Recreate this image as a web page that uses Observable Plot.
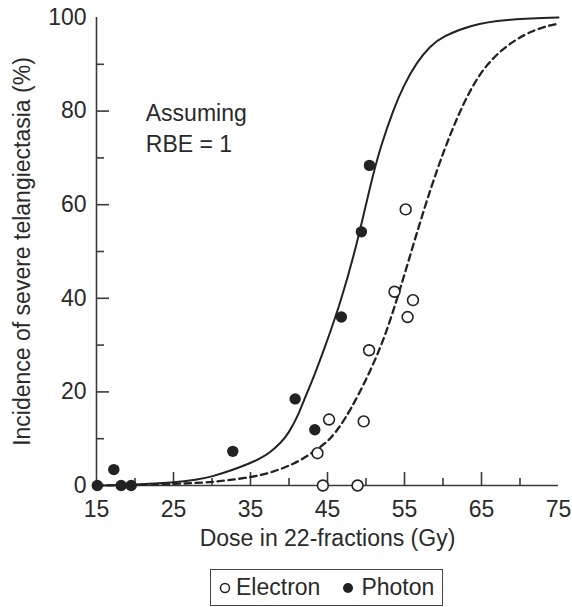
<!DOCTYPE html>
<html>
<head>
<meta charset="utf-8">
<script src="https://cdn.jsdelivr.net/npm/d3@7"></script>
<script src="https://cdn.jsdelivr.net/npm/@observablehq/plot@0.6"></script>
<style>
  body { margin: 0; background: #fff; font-family: "Liberation Sans", Arial, sans-serif; color: #2a2a2a; }
  #chart svg { display: block; }
  #legend {
    margin: 7px 0 0 210px; width: 233px; height: 37px; box-sizing: border-box;
    border: 1.5px solid #444; display: flex; align-items: center; padding-left: 8px;
    font-size: 23px; color: #2a2a2a; white-space: nowrap;
  }
  #legend svg { display: block; flex: none; }
</style>
</head>
<body>
<div id="chart"></div>
<div id="legend"></div>
<script>
// Data points
const photonDose = [15.1, 17.25, 18.2, 19.5, 32.7, 40.8, 43.35, 46.8, 49.4, 50.45];
const photonIncidence = [0, 3.4, 0, 0, 7.3, 18.5, 11.9, 36.0, 54.2, 68.4];
const electronDose = [43.7, 44.4, 45.2, 48.9, 49.7, 50.4, 53.7, 55.15, 55.4, 56.1];
const electronIncidence = [6.9, 0, 14.1, 0, 13.7, 28.9, 41.4, 59.0, 36.0, 39.6];

// Fitted curves, points
const photonCurveDose = [15, 20, 25, 28, 30, 32.5, 35, 36.3, 37.5, 39, 40, 41.2, 42, 43, 44.5, 46.7, 48.9, 50.6, 51.9, 53.6, 54.9, 56.6, 58.4, 60, 63.6, 67.9, 75];
const photonCurveIncidence = [0, 0.15, 0.6, 1.2, 1.9, 3.2, 4.8, 5.8, 7.0, 9.2, 11.3, 15, 18.5, 22.3, 28.8, 39, 52, 64.5, 72.5, 80.5, 85.5, 90.5, 94, 96, 98.4, 99.6, 100];
const electronCurveDose = [15, 20, 25, 30, 33, 36.3, 39, 41.5, 44.1, 45.4, 46.7, 48, 50, 51.9, 53.2, 54.9, 56.6, 58.4, 60.1, 61.8, 63.6, 65.7, 68.8, 72.2, 75];
const electronCurveIncidence = [0, 0.1, 0.3, 0.7, 1.3, 2.1, 3.5, 5.3, 8.2, 10, 12.8, 16.2, 22.5, 29.5, 35.5, 44.5, 54, 63.5, 71.5, 78.5, 84.8, 90.2, 94.8, 97.7, 98.7];

// Ticks and labels
const xTicks = [15, 25, 35, 45, 55, 65, 75];
const xMinorTicks = [20, 30, 40, 50, 60, 70];
const yTicks = [0, 20, 40, 60, 80, 100];
const yMinorTicks = [10, 30, 50, 70, 90];
const xLabel = "Dose in 22-fractions (Gy)";
const yLabel = "Incidence of severe telangiectasia (%)";
const annotation = "Assuming\nRBE = 1";
const seriesNames = ["Electron", "Photon"];

const photon = photonDose.map((d, i) => ({dose: d, inc: photonIncidence[i]}));
const electron = electronDose.map((d, i) => ({dose: d, inc: electronIncidence[i]}));
const photonCurve = photonCurveDose.map((d, i) => ({dose: d, inc: photonCurveIncidence[i]}));
const electronCurve = electronCurveDose.map((d, i) => ({dose: d, inc: electronCurveIncidence[i]}));

const W = 572, H = 562, mL = 96, mR = 14, mT = 17, mB = 77;
const plotW = W - mL - mR, plotH = H - mT - mB;
const ink = "#222";
const axisInk = "#3a3a3a";
const textInk = "#2a2a2a";

const chart = Plot.plot({
  width: W, height: H,
  marginLeft: mL, marginRight: mR, marginTop: mT, marginBottom: mB,
  style: {fontFamily: '"Liberation Sans", Arial, sans-serif', fontSize: "23px", color: textInk, background: "#fff", overflow: "visible"},
  x: {domain: [15, 75], ticks: xTicks, tickSize: 0, tickPadding: 15, label: null},
  y: {domain: [0, 100], ticks: yTicks, tickSize: 0, tickPadding: 10, label: null},
  marks: [
    // axis lines
    Plot.ruleY([0], {stroke: axisInk, strokeWidth: 1.6}),
    Plot.ruleX([15], {stroke: axisInk, strokeWidth: 1.6}),
    // inward ticks
    Plot.ruleX(xTicks.filter(d => d > 15 && d < 75), {stroke: axisInk, strokeWidth: 1.6, insetTop: plotH - 13}),
    Plot.ruleX(xMinorTicks, {stroke: axisInk, strokeWidth: 1.6, insetTop: plotH - 7}),
    Plot.ruleY(yTicks.filter(d => d > 0 && d < 100), {stroke: axisInk, strokeWidth: 1.6, insetRight: plotW - 13}),
    Plot.ruleY(yMinorTicks, {stroke: axisInk, strokeWidth: 1.6, insetRight: plotW - 8}),
    // curves
    Plot.line(electronCurve, {x: "dose", y: "inc", stroke: ink, strokeWidth: 2.3, strokeDasharray: "6.5,4.5", curve: "basis"}),
    Plot.line(photonCurve, {x: "dose", y: "inc", stroke: ink, strokeWidth: 2, curve: "basis"}),
    // points
    Plot.dot(electron, {x: "dose", y: "inc", r: 5.4, fill: "#fff", stroke: ink, strokeWidth: 1.6}),
    Plot.dot(photon, {x: "dose", y: "inc", r: 5.7, fill: ink, stroke: "none"}),
    // texts
    Plot.text([annotation], {x: 21.4, y: 82.4, text: d => d, textAnchor: "start", lineAnchor: "top", lineHeight: 1.32, fontSize: 23, fill: textInk}),
    Plot.text([xLabel], {frameAnchor: "bottom", text: d => d, dy: 60, fontSize: 23, fill: textInk}),
    Plot.text([yLabel], {frameAnchor: "left", text: d => d, rotate: -90, textAnchor: "middle", dx: -74, fontSize: 23, fill: textInk})
  ]
});
document.getElementById("chart").append(chart);

// legend
const legend = document.getElementById("legend");
const ns = "http://www.w3.org/2000/svg";
function marker(filled) {
  const s = document.createElementNS(ns, "svg");
  s.setAttribute("width", 12); s.setAttribute("height", 12);
  const c = document.createElementNS(ns, "circle");
  c.setAttribute("cx", 6); c.setAttribute("cy", 6); c.setAttribute("r", filled ? 5 : 4.5);
  c.setAttribute("fill", filled ? ink : "#fff");
  c.setAttribute("stroke", filled ? "none" : ink);
  c.setAttribute("stroke-width", 1.5);
  s.append(c);
  return s;
}
seriesNames.forEach((name, i) => {
  const m = marker(i === 1);
  m.style.marginRight = i === 1 ? "7px" : "5px";
  if (i === 1) m.style.marginLeft = "22px";
  legend.append(m);
  const t = document.createElement("span");
  t.textContent = name;
  legend.append(t);
});
</script>
</body>
</html>
